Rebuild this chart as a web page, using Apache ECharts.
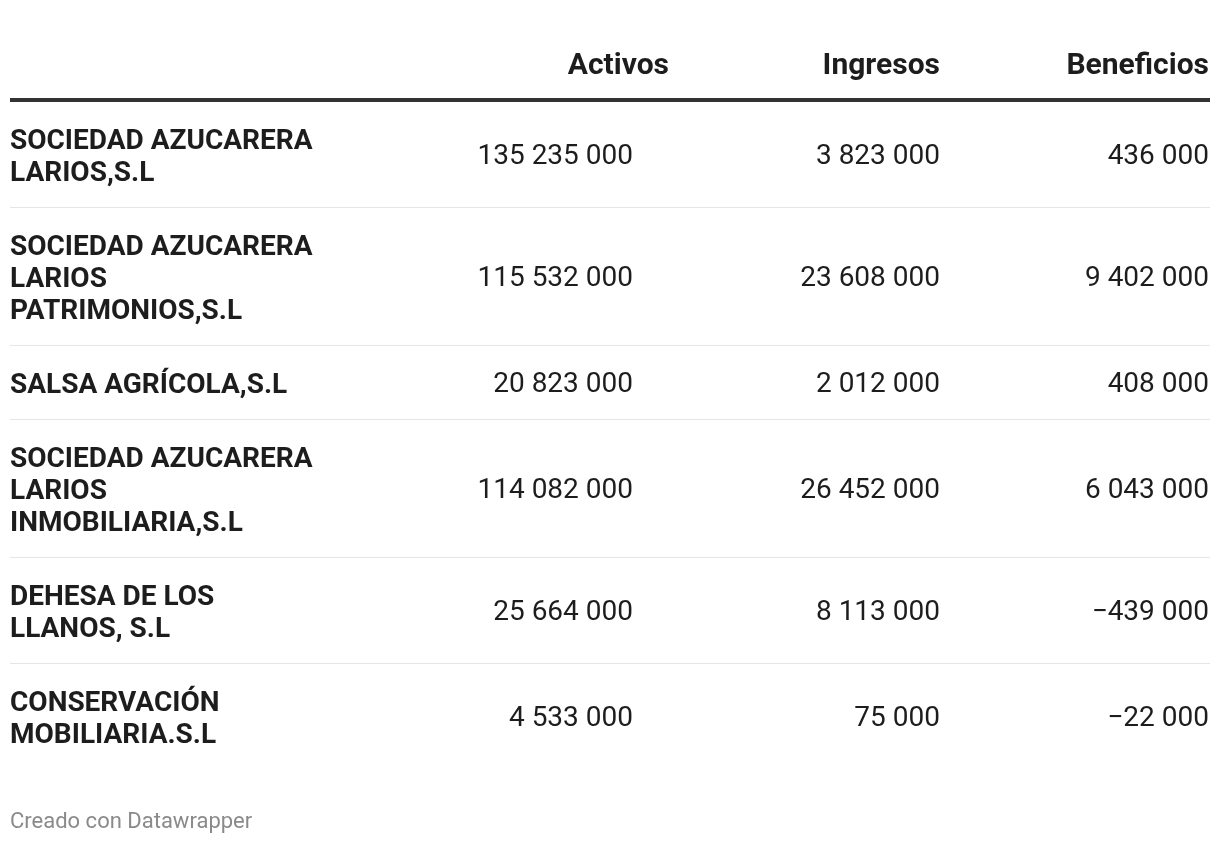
<!DOCTYPE html>
<html>
<head>
<meta charset="utf-8">
<script src="https://cdn.jsdelivr.net/npm/echarts@6/dist/echarts.min.js"></script>
<style>
html,body{margin:0;padding:0;background:#fff;}
#chart{width:1220px;height:844px;}
</style>
</head>
<body>
<div id="chart"></div>
<script>
// ---- data ----
var columns = ['Activos', 'Ingresos', 'Beneficios'];
var companies = [
  'SOCIEDAD AZUCARERA\nLARIOS,S.L',
  'SOCIEDAD AZUCARERA\nLARIOS\nPATRIMONIOS,S.L',
  'SALSA AGRÍCOLA,S.L',
  'SOCIEDAD AZUCARERA\nLARIOS\nINMOBILIARIA,S.L',
  'DEHESA DE LOS\nLLANOS, S.L',
  'CONSERVACIÓN\nMOBILIARIA.S.L'
];
var activos    = [135235000, 115532000, 20823000, 114082000, 25664000, 4533000];
var ingresos   = [3823000, 23608000, 2012000, 26452000, 8113000, 75000];
var beneficios = [436000, 9402000, 408000, 6043000, -439000, -22000];
var footer = 'Creado con Datawrapper';

// ---- layout helpers ----
function fmt(v) {
  var s = Math.abs(v).toString().replace(/\B(?=(\d{3})+(?!\d))/g, ' ');
  return (v < 0 ? '\u2212' : '') + s;
}
var LINE = 32, PAD = 20.5, HEADER_LINE_Y = 100;
var rows = [];
var y = HEADER_LINE_Y + 2.5;
companies.forEach(function (name, i) {
  var n = name.split('\n').length;
  var h = PAD * 2 + LINE * n;
  rows.push([i, y, y + h, n]);
  y += h + 1;
});

var valueCols = [activos, ingresos, beneficios];
var valueRight = [633, 940, 1209];
var headerRight = [669, 940, 1209];
var FONT = 'Roboto, "Noto Sans", sans-serif';
var TEXT = '#1d1d1d';

var chart = echarts.init(document.getElementById('chart'), null, {renderer: 'canvas'});
chart.setOption({
  backgroundColor: '#ffffff',
  animation: false,
  grid: {left: 0, right: 0, top: 0, bottom: 0},
  xAxis: {type: 'value', min: 0, max: 1220, show: false},
  yAxis: {type: 'value', min: 0, max: 844, inverse: true, show: false},
  title: {
    text: footer, left: 10, top: 811, padding: 0,
    textStyle: {fontFamily: FONT, fontSize: 22, fontWeight: 'normal', color: '#8a8a8a'}
  },
  series: [
    {
      // header row
      type: 'custom',
      data: columns.map(function (c, i) { return [i]; }),
      renderItem: function (params, api) {
        var i = api.value(0);
        var p = api.coord([headerRight[i], 66]);
        var children = [{
          type: 'text',
          style: {text: columns[i], x: p[0], y: p[1], align: 'right', verticalAlign: 'middle',
            fill: TEXT, font: 'bold 30px ' + FONT}
        }];
        if (i === 0) {
          var a = api.coord([10, HEADER_LINE_Y]), b = api.coord([1210, HEADER_LINE_Y]);
          children.push({type: 'rect', shape: {x: a[0], y: a[1] - 2, width: b[0] - a[0], height: 4},
            style: {fill: '#333333'}});
        }
        return {type: 'group', children: children};
      }
    },
    {
      // body rows
      type: 'custom',
      data: rows,
      renderItem: function (params, api) {
        var i = api.value(0), top = api.value(1), bottom = api.value(2);
        var mid = (top + bottom) / 2;
        var children = [];
        var pn = api.coord([10, mid]);
        children.push({
          type: 'text',
          style: {text: companies[i], x: pn[0], y: pn[1] + 2.5, align: 'left', verticalAlign: 'middle',
            fill: TEXT, font: 'bold 28px ' + FONT, lineHeight: LINE}
        });
        for (var c = 0; c < 3; c++) {
          var pv = api.coord([valueRight[c], mid]);
          children.push({
            type: 'text',
            style: {text: fmt(valueCols[c][i]), x: pv[0], y: pv[1] + 2, align: 'right', verticalAlign: 'middle',
              fill: TEXT, font: '28px ' + FONT}
          });
        }
        if (i < rows.length - 1) {
          var a = api.coord([10, bottom + 0.5]), b = api.coord([1210, bottom + 0.5]);
          children.push({type: 'rect', shape: {x: a[0], y: Math.round(a[1]) - 1, width: b[0] - a[0], height: 1},
            style: {fill: '#e6e6e6'}});
        }
        return {type: 'group', children: children};
      }
    }
  ]
});
</script>
</body>
</html>
